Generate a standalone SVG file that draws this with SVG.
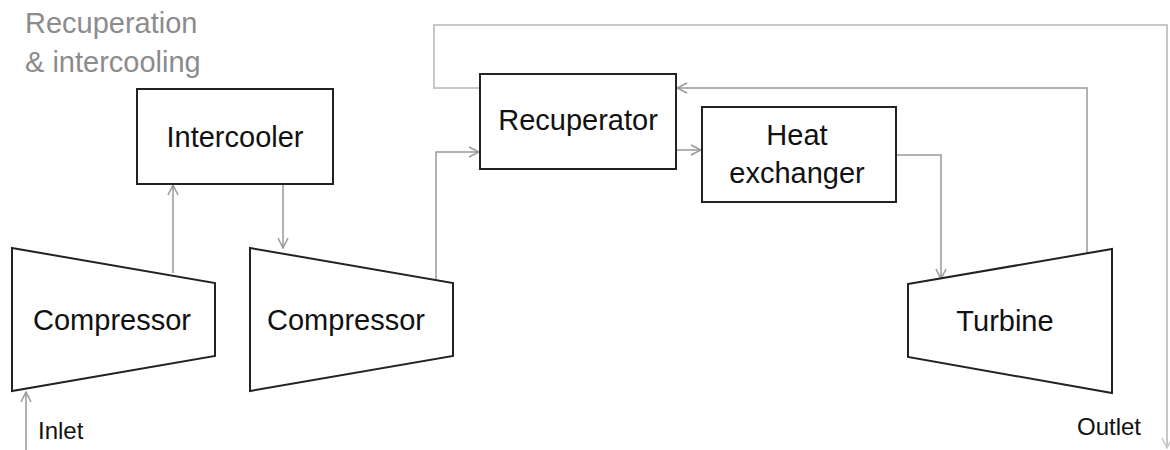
<svg xmlns="http://www.w3.org/2000/svg" width="1170" height="450" viewBox="0 0 1170 450">
  <defs>
    <marker id="arr" viewBox="0 0 12 12" refX="11" refY="6" markerWidth="12" markerHeight="12" markerUnits="userSpaceOnUse" orient="auto">
      <path d="M1,1 L11,6 L1,11" fill="none" stroke="#999" stroke-width="1.5"/>
    </marker>
    <marker id="arrL" viewBox="0 0 12 12" refX="11" refY="6" markerWidth="12" markerHeight="12" markerUnits="userSpaceOnUse" orient="auto">
      <path d="M1,1 L11,6 L1,11" fill="none" stroke="#c8c8c8" stroke-width="1.5"/>
    </marker>
  </defs>
  <style>
    .node { fill: #fff; stroke: #222; stroke-width: 2; }
    .lbl { font-family: "Liberation Sans", Arial, sans-serif; fill: #111; font-size: 29px; text-anchor: middle; }
    .small { font-family: "Liberation Sans", Arial, sans-serif; fill: #111; font-size: 24px; }
    .title { font-family: "Liberation Sans", Arial, sans-serif; fill: #8c8c8c; font-size: 29px; }
    .conn { fill: none; stroke: #999; stroke-width: 1.5; }
    .connL { fill: none; stroke: #c8c8c8; stroke-width: 2; }
  </style>
  <rect width="1170" height="450" fill="#fff"/>

  <g id="title">
    <text class="title" x="25" y="33">Recuperation</text>
    <text class="title" x="25" y="72">&amp; intercooling</text>
  </g>

  <g id="connectors">
    <path class="conn" d="M26,450 L26,392" marker-end="url(#arr)"/>
    <path class="conn" d="M173,273 L173,185" marker-end="url(#arr)"/>
    <path class="conn" d="M283,185 L283,248" marker-end="url(#arr)"/>
    <path class="conn" d="M436,280 L436,152 L479,152" marker-end="url(#arr)"/>
    <path class="conn" d="M677,150 L701,150" marker-end="url(#arr)"/>
    <path class="conn" d="M897,155 L941,155 L941,279" marker-end="url(#arr)"/>
    <path class="conn" d="M1087,253 L1087,88 L677,88" marker-end="url(#arr)"/>
    <path class="connL" d="M480,88 L434,88 L434,25 L1167,25 L1167,448" marker-end="url(#arrL)"/>
  </g>

  <g id="compressor1">
    <polygon class="node" points="12,248 215,283 215,356 12,391"/>
    <text class="lbl" x="112" y="330">Compressor</text>
  </g>

  <g id="compressor2">
    <polygon class="node" points="250,248 453,283 453,356 250,391"/>
    <text class="lbl" x="346" y="330">Compressor</text>
  </g>

  <g id="intercooler">
    <rect class="node" x="137" y="89" width="196" height="95"/>
    <text class="lbl" x="235" y="147">Intercooler</text>
  </g>

  <g id="recuperator">
    <rect class="node" x="480" y="74" width="196" height="95"/>
    <text class="lbl" x="578" y="130">Recuperator</text>
  </g>

  <g id="heat-exchanger">
    <rect class="node" x="702" y="107" width="194" height="95"/>
    <text class="lbl" x="797" y="145">Heat</text>
    <text class="lbl" x="797" y="183">exchanger</text>
  </g>

  <g id="turbine">
    <polygon class="node" points="908,284 1112,249 1112,393 908,357"/>
    <text class="lbl" x="1005" y="331">Turbine</text>
  </g>

  <g id="labels">
    <text class="small" x="38" y="439">Inlet</text>
    <text class="small" x="1077" y="435">Outlet</text>
  </g>
</svg>
